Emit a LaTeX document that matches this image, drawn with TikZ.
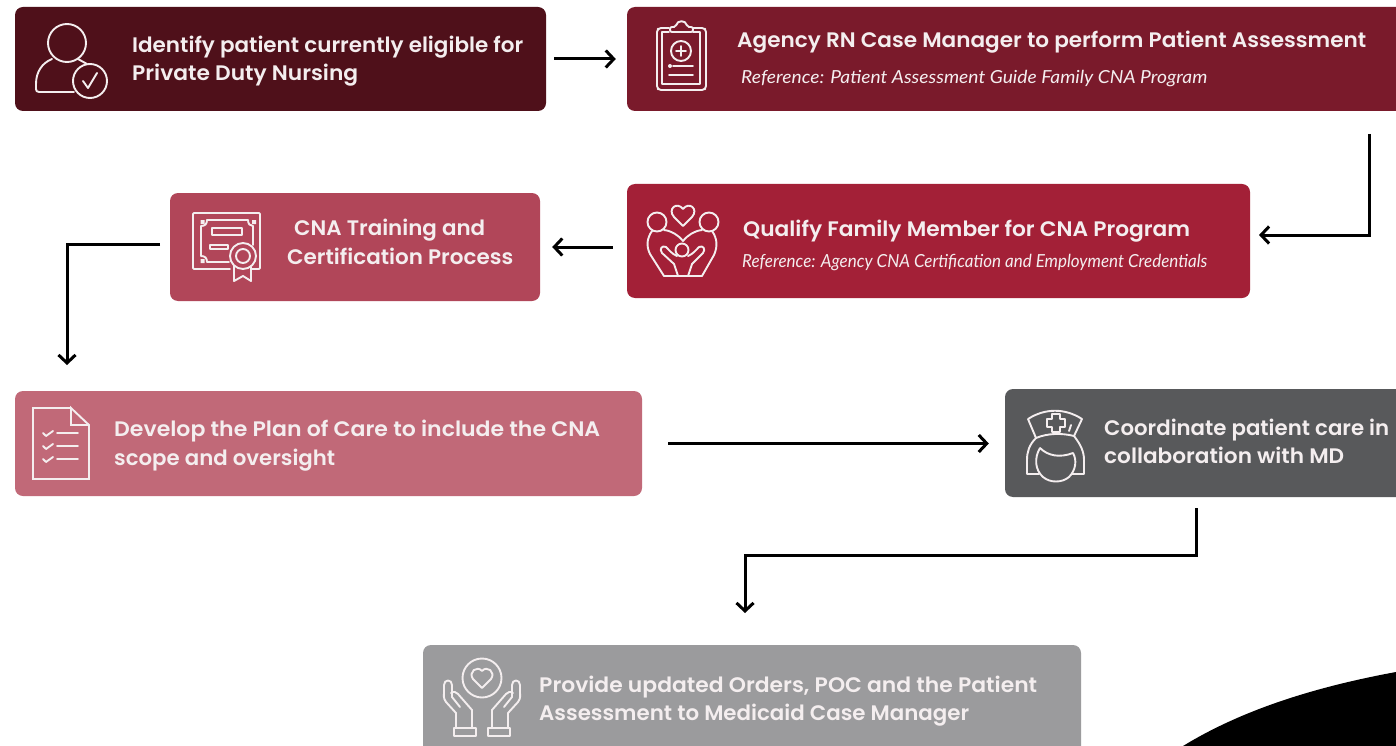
\documentclass[tikz,border=0pt]{standalone}
\usepackage{fontspec}
\usepackage{graphicx}
\usetikzlibrary{arrows.meta}
\setmainfont{Poppins}
\newfontfamily\headfont{Poppins SemiBold}
\newfontfamily\reffont{Lato Italic}
\definecolor{cA}{HTML}{4F101A}
\definecolor{cB}{HTML}{7A1A2B}
\definecolor{cC}{HTML}{A32037}
\definecolor{cD}{HTML}{B14659}
\definecolor{cE}{HTML}{C16978}
\definecolor{cF}{HTML}{58595B}
\definecolor{cG}{HTML}{9B9B9D}
\definecolor{ink}{HTML}{F4EEEF}
\tikzset{
  flowbox/.style={rectangle,rounded corners=8pt,inner sep=0pt,draw=none},
  headtxt/.style={anchor=base west,inner sep=0pt,text=ink,font=\headfont\fontsize{21}{21}\selectfont},
  reftxt/.style={anchor=base west,inner sep=0pt,text=ink,font=\reffont\fontsize{18}{18}\selectfont},
  flowarrow/.style={draw=black,line width=3pt,-{Straight Barb[length=8pt,width=17pt,line width=3pt]}},
  iconline/.style={draw=ink,line width=1.9pt,line join=round,line cap=round,fill=none},
}
\newcommand{\fitw}[2]{\resizebox{#1pt}{\height}{#2}}
\begin{document}
\begin{tikzpicture}[x=1pt,y=-1pt]
\useasboundingbox (0,0) rectangle (1396,746);
\fill[white] (0,0) rectangle (1396,746);
\clip (0,0) rectangle (1396,746);

% black corner
\fill[black] (1183,746) .. controls (1245,708) and (1320,686) .. (1396,672) -- (1396,746) -- cycle;

% boxes
\node[flowbox,fill=cA,minimum width=531pt,minimum height=104pt] (b1) at (280.5,59) {};
\node[flowbox,fill=cB,minimum width=790pt,minimum height=104pt] (b2) at (1022,59) {};
\node[flowbox,fill=cC,minimum width=623pt,minimum height=114pt] (b3) at (938.5,241) {};
\node[flowbox,fill=cD,minimum width=370pt,minimum height=108pt] (b4) at (355,247) {};
\node[flowbox,fill=cE,minimum width=627pt,minimum height=105pt] (b5) at (328.5,443.5) {};
\node[flowbox,fill=cF,minimum width=410pt,minimum height=108pt] (b6) at (1210,443) {};
\node[flowbox,fill=cG,minimum width=658pt,minimum height=130pt] (b7) at (752,710) {};

% texts
\node[headtxt] (t1a) at (132,52.5) {\fitw{391}{Identify patient currently eligible for}};
\node[headtxt] (t1b) at (132,81) {\fitw{226}{Private Duty Nursing}};
\node[headtxt] (t2a) at (737,48) {\fitw{629}{Agency RN Case Manager to perform Patient Assessment}};
\node[reftxt] (t2b) at (741,84) {\fitw{466}{Reference: Patient Assessment Guide Family CNA Program}};
\node[headtxt] (t3a) at (743,236) {\fitw{447}{Qualify Family Member for CNA Program}};
\node[reftxt] (t3b) at (742,267) {\fitw{465}{Reference: Agency CNA Certification and Employment Credentials}};
\node[headtxt] (t4a) at (294,235) {\fitw{191}{CNA Training and}};
\node[headtxt] (t4b) at (287,264) {\fitw{226}{Certification Process}};
\node[headtxt] (t5a) at (114,436) {\fitw{486}{Develop the Plan of Care to include the CNA}};
\node[headtxt] (t5b) at (114,465) {\fitw{221}{scope and oversight}};
\node[headtxt] (t6a) at (1104,435) {\fitw{285}{Coordinate patient care in}};
\node[headtxt] (t6b) at (1104,463) {\fitw{240}{collaboration with MD}};
\node[headtxt] (t7a) at (539,692) {\fitw{498}{Provide updated Orders, POC and the Patient}};
\node[headtxt] (t7b) at (539,720) {\fitw{430}{Assessment to Medicaid Case Manager}};

% connectors
\coordinate (p2s) at (1369,134);
\coordinate (p2k) at (1369,235);
\coordinate (p2e) at (1259,235);
\coordinate (p4s) at (160,244);
\coordinate (p4k) at (67,244);
\coordinate (p4e) at (67,365);
\coordinate (p6s) at (1196,508);
\coordinate (p6k) at (1196,555);
\coordinate (p6m) at (745,555);
\coordinate (p6e) at (745,613);
\draw[flowarrow,shorten <=8pt,shorten >=11pt] (b1.east) -- (b2.west |- b1.east);
\draw[flowarrow] (p2s) -- (p2k) -- (p2e);
\draw[flowarrow,shorten <=14pt,shorten >=12pt] (b3.west |- b4.east) -- (b4.east);
\draw[flowarrow] (p4s) -- (p4k) -- (p4e);
\draw[flowarrow,shorten <=26pt,shorten >=16pt] (b5.east) -- (b6.west |- b5.east);
\draw[flowarrow] (p6s) -- (p6k) -- (p6m) -- (p6e);

% icon 1
\draw[iconline] (67,43) circle (19);
\draw[iconline] (90,81) circle (17);
\draw[iconline] (52,59) .. controls (42,63) and (36,72) .. (36,84) -- (36,89) .. controls (36,91) and (37,92) .. (39,92) -- (74,92);
\draw[iconline] (78,59) -- (87,64);
\draw[iconline] (83,81) -- (88,88) -- (97,73);

% icon 2
\draw[iconline,rounded corners=2pt] (669,28) -- (659,28) -- (657,30) -- (657,88) -- (659,90) -- (704,90) -- (706,88) -- (706,30) -- (704,28) -- (693,28);
\draw[iconline] (669,32) -- (662,32) -- (662,84) -- (700,84) -- (700,32) -- (693,32);
\draw[iconline,rounded corners=2pt] (670,32) -- (670,27) -- (676,27) .. controls (677,20) and (686,20) .. (687,27) -- (693,27) -- (693,32) -- cycle;
\draw[iconline] (681,51) circle (10);
\draw[iconline] (676,51) -- (686,51) (681,46) -- (681,56);
\fill[ink] (670,66) circle (2);
\draw[iconline] (673,66) -- (693,66) (669,75) -- (693,75);

% icon 3
\draw[iconline,rounded corners=1pt] (230,269) -- (193,269) -- (193,213) -- (260,213) -- (260,269) -- (252,269);
\draw[iconline] (207,220) -- (248,220) .. controls (248,224) and (250,226) .. (253,226) -- (253,245);
\draw[iconline] (207,220) .. controls (207,224) and (205,226) .. (201,226) -- (201,256) .. controls (205,256) and (207,258) .. (207,262) -- (229,262);
\draw[iconline] (212,228) rectangle (242,235);
\draw[iconline] (210,245) rectangle (228,249);
\fill[ink] (200.5,220) rectangle (204.5,224) (252,220) rectangle (256,224) (200.5,259) rectangle (204.5,263);
\draw[iconline] (243,256) circle (13);
\draw[iconline] (243,256) circle (7);
\draw[iconline] (234,266) -- (234,281) -- (243,276) -- (251,281) -- (251,267);

% icon 4
\draw[iconline] (683,226) -- (674,217) .. controls (667,209) and (677,201) .. (683,209) .. controls (689,201) and (699,209) .. (692,217) -- cycle;
\draw[iconline] (657,222) circle (9.5);
\draw[iconline] (709,222) circle (9.5);
\draw[iconline] (664,230) .. controls (672,231) and (678,235) .. (683,241) .. controls (688,235) and (694,231) .. (702,230);
\draw[iconline] (652,231) .. controls (647,238) and (646,246) .. (650,254) -- (664,276) -- (702,276) -- (714,255) .. controls (718,246) and (717,238) .. (712,231);
\draw[iconline] (682,250) circle (6.5);
\draw[iconline] (677,256) .. controls (672,254) and (669,250) .. (666,247) .. controls (662,245) and (659,249) .. (662,253) -- (674,264) -- (678,276);
\draw[iconline] (688,256) .. controls (693,254) and (696,250) .. (699,247) .. controls (703,245) and (706,249) .. (703,253) -- (692,264) -- (688,276);

% icon 5
\draw[iconline,line cap=butt,line join=miter] (71,408) -- (33,408) -- (33,479) -- (89,479) -- (89,425) -- (71,408) -- (71,425) -- (89,425);
\foreach \yy in {433,446,459}{
  \draw[iconline] (43,\yy) -- (46,\yy+3) -- (53,\yy-2);
  \draw[iconline] (57,\yy) -- (78,\yy);
}

% icon 6
\draw[iconline] (1036,438) -- (1028,419) .. controls (1045,408) and (1065,408) .. (1082,419) -- (1074,436);
\draw[iconline] (1036,438) .. controls (1048,433) and (1062,433) .. (1074,436);
\draw[iconline] (1052,414) -- (1060,414) -- (1060,419) -- (1065,419) -- (1065,427) -- (1060,427) -- (1060,432) -- (1052,432) -- (1052,427) -- (1047,427) -- (1047,419) -- (1052,419) -- cycle;
\draw[iconline] (1071,425) -- (1069,431);
\draw[iconline] (1036,438) .. controls (1029,445) and (1027,452) .. (1027,460) -- (1027,474) -- (1039,474);
\draw[iconline] (1074,436) .. controls (1081,445) and (1084,452) .. (1084,460) -- (1084,474) -- (1072,474);
\draw[iconline] (1040,448) .. controls (1034,458) and (1035,470) .. (1043,477) .. controls (1050,483) and (1062,483) .. (1069,477) .. controls (1076,470) and (1077,460) .. (1073,453) .. controls (1060,458) and (1048,456) .. (1040,448);

% icon 7
\draw[iconline] (482,678) circle (19.5);
\draw[iconline] (482,688) -- (473,679) .. controls (468,672) and (477,665) .. (482,671) .. controls (487,665) and (496,672) .. (491,679) -- cycle;
\draw[iconline] (456,728) -- (456,713) -- (446,702) .. controls (443,698) and (444,695) .. (444,692) -- (444,685) .. controls (444,679) and (452,679) .. (452,685) -- (452,697) -- (460,707);
\draw[iconline] (451,693) .. controls (454,691) and (456,692) .. (458,694) -- (472,710) -- (472,728);
\draw[iconline] (454,728) rectangle (476,736);
\draw[iconline] (508,728) -- (508,713) -- (518,702) .. controls (521,698) and (520,695) .. (520,692) -- (520,685) .. controls (520,679) and (512,679) .. (512,685) -- (512,697) -- (504,707);
\draw[iconline] (513,693) .. controls (510,691) and (508,692) .. (506,694) -- (492,710) -- (492,728);
\draw[iconline] (488,728) rectangle (510,736);
\end{tikzpicture}
\end{document}
